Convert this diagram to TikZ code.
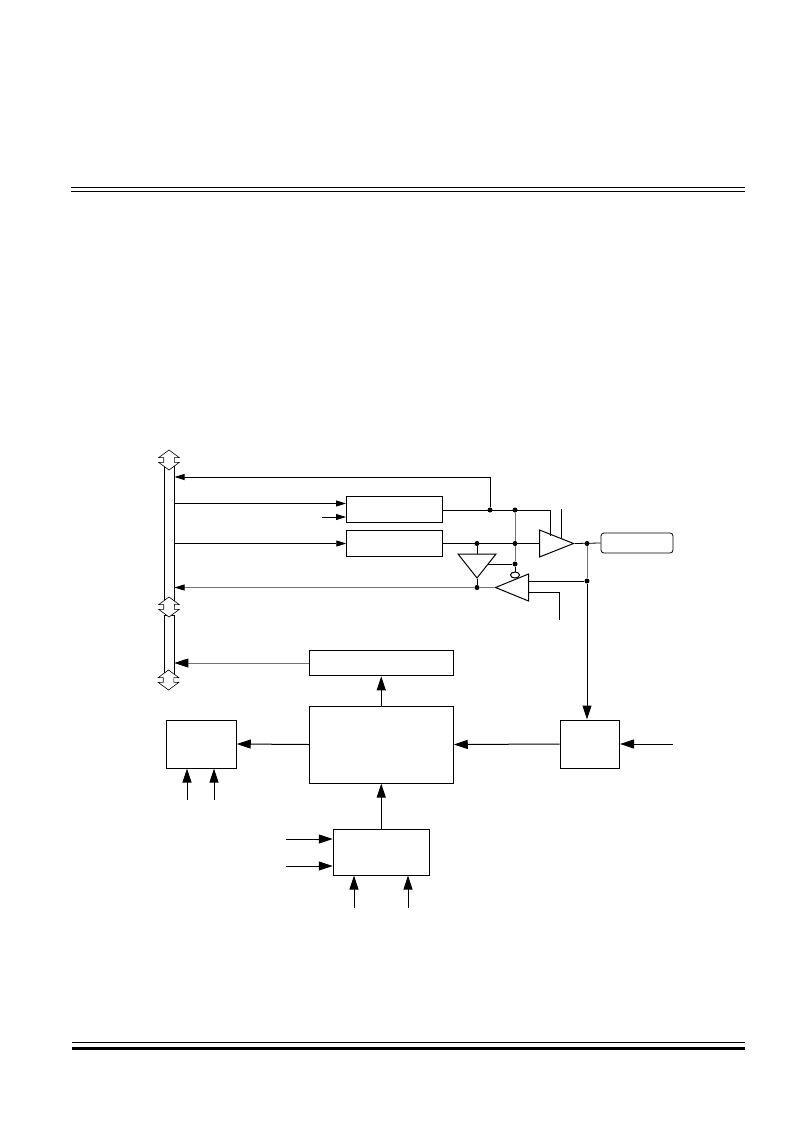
\documentclass[tikz,border=0pt]{standalone}
\usepackage{tikz}
\usetikzlibrary{shapes.geometric, shapes.arrows, arrows.meta}
\tikzstyle{block} = [rectangle, draw=black, line width=1pt, inner sep=0pt, fill=white]
\tikzstyle{pad} = [rectangle, rounded corners=3pt, draw=black, line width=0.8pt, inner sep=0pt, minimum width=72pt, minimum height=20pt]
\tikzstyle{buffer} = [isosceles triangle, isosceles triangle stretches, draw=black, line width=1pt, inner sep=0pt, anchor=lower side]
\tikzstyle{junction} = [circle, fill=black, inner sep=0pt, minimum size=5pt]
\tikzstyle{bus} = [rectangle, draw=black, line width=0.8pt, inner sep=0pt, minimum width=10pt]
\tikzstyle{busend} = [double arrow, draw=black, fill=white, line width=0.6pt, inner sep=5pt, shape border rotate=90, minimum height=20pt, double arrow head extend=5pt, double arrow tip angle=107]
\tikzstyle{arrow} = [line width=1pt, -{Triangle[length=14pt,width=9pt]}]
\tikzstyle{thinarrow} = [line width=0.8pt, -{Triangle[length=10pt,width=6pt]}]
\tikzstyle{wire} = [line width=0.8pt]
\tikzstyle{rule} = [line width=1.2pt]
\colorlet{faint}{black!55}

\begin{document}
\begin{tikzpicture}[x=1pt, y=-1pt]

\useasboundingbox (0,0) rectangle (793,1123);

% page rules
\draw [rule] (71,187.5) -- (745,187.5);
\draw [rule] (71,191.5) -- (745,191.5);
\draw [rule] (72,1042.5) -- (745,1042.5);
\draw [line width=3pt] (72,1048.5) -- (745,1048.5);

% data bus
\node (busup) [bus, minimum height=140pt] at (169.5,535) {};
\node (buslow) [bus, minimum height=60pt] at (169,645) {};
\node (endtop) [busend] at (169,460) {};
\node (endmid) [busend] at (169,607) {};
\node (endlow) [busend] at (168.5,680) {};

% latches
\node (latchtop) [block, minimum width=96pt, minimum height=26pt] at (394.75,509.5) {};
\node (latchlow) [block, minimum width=96pt, minimum height=26pt] at (394.75,543.5) {};

% buffers
\node (bufout) [buffer, minimum width=27pt, minimum height=34pt] at (539,543.5) {};
\node (bufread) [buffer, shape border rotate=-90, minimum width=38pt, minimum height=24pt] at (477,553.5) {};
\node (bufin) [buffer, shape border rotate=180, minimum width=27pt, minimum height=33pt] at (529,587.5) {};
\node (bubble) [ellipse, draw=black, line width=1pt, inner sep=0pt, minimum width=9pt, minimum height=6pt] at (515,575) {};
\node (pin) [pad] at (637,543) {};

% junctions
\node (dfeed) [junction] at (490,510) {};
\node (dtop) [junction] at (515,510) {};
\node (dmid) [junction] at (515,543.5) {};
\node (dlow) [junction] at (515,564) {};
\node (dread) [junction] at (477,543.5) {};
\node (dbus) [junction] at (477,587.5) {};
\node (dpin) [junction] at (587,543.5) {};
\node (dsense) [junction] at (587,581) {};

% free ends
\coordinate (feedend) at (174.5,477);
\coordinate (wrstart) at (174.5,503.5);
\coordinate (wrend) at (346,503.5);
\coordinate (clkstart) at (322,517);
\coordinate (clkend) at (346,517);
\coordinate (trisstart) at (174.5,543.5);
\coordinate (readend) at (174.5,587.5);
\coordinate (oecorner) at (550,510);
\coordinate (oeend) at (550,536);
\coordinate (entop) at (561,509);
\coordinate (enlow) at (561,538);
\coordinate (sensein) at (529,581);
\coordinate (ctlin) at (529,592);
\coordinate (ctlend) at (559,620);

% lower blocks
\node (shiftreg) [block, minimum width=144pt, minimum height=25.5pt] at (381.25,663) {};
\node (ctrl) [block, minimum width=144pt, minimum height=77pt] at (381.25,744.5) {};
\node (timer) [block, minimum width=70pt, minimum height=48pt] at (201.25,744) {};
\node (filter) [block, minimum width=59.5pt, minimum height=48pt] at (589.75,744) {};
\node (clock) [block, minimum width=96pt, minimum height=46pt] at (381.25,852) {};

\coordinate (filterin) at (673,744);
\coordinate (timera) at (187,800);
\coordinate (timerb) at (214,800);
\coordinate (clka) at (286,839);
\coordinate (clkb) at (286,866);
\coordinate (clkc) at (354,908);
\coordinate (clkd) at (408,908);

% upper wiring
\draw [thinarrow] (dfeed) |- (feedend);
\draw [thinarrow] (wrstart) -- (wrend);
\draw [thinarrow] (clkstart) -- (clkend);
\draw [thinarrow] (trisstart) -- (latchlow.west);
\draw [wire] (latchtop.east |- dfeed) -- (oecorner) -- (oeend);
\draw [wire, faint] (dtop) -- (dmid);
\draw [wire, faint] (dmid) -- (dlow);
\draw [wire] (latchlow.east) -- (bufout.lower side);
\draw [wire] (bufout.apex) -- (pin.west);
\draw [wire] (dread) -- (bufread.lower side);
\draw [wire] (bufread.apex) -- (dbus);
\draw [wire] (dlow) -- (bubble);
\draw [wire] (488,564) -- (dlow);
\draw [wire] (entop) -- (enlow);
\draw [wire, faint] (bufin.apex) -- (dbus);
\draw [line width=0.8pt, faint, {Triangle[length=10pt,width=6pt,color=black]}-] (readend) -- (dbus);
\draw [wire] (dsense) -- (sensein);
\draw [wire] (ctlin) -| (ctlend);

% lower wiring
\draw [line width=1pt, faint, {Triangle[length=14pt,width=9pt,color=black]}-] (buslow.east |- shiftreg.west) -- (shiftreg.west);
\draw [arrow] (ctrl.north) -- (shiftreg.south);
\draw [arrow] (ctrl.west) -- (timer.east);
\draw [arrow] (filter.west) -- (ctrl.east);
\draw [arrow] (filterin) -- (filter.east);
\draw [wire, faint] (dpin) -- (dsense);
\draw [arrow] (dsense) -- (dsense |- filter.north);
\draw [arrow] (clock.north) -- (ctrl.south);
\draw [arrow] (timera) -- (timera |- timer.south);
\draw [arrow] (timerb) -- (timerb |- timer.south);
\draw [arrow] (clka) -- (clka -| clock.west);
\draw [arrow] (clkb) -- (clkb -| clock.west);
\draw [arrow] (clkc) -- (clkc |- clock.south);
\draw [arrow] (clkd) -- (clkd |- clock.south);

\end{tikzpicture}
\end{document}
